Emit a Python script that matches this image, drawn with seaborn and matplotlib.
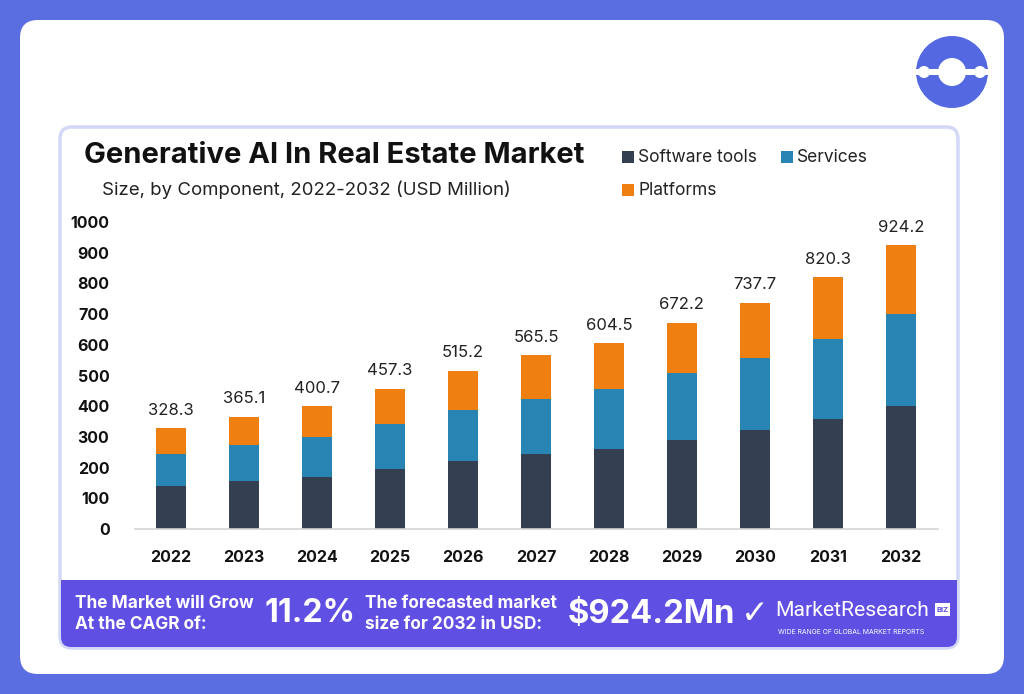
import numpy as np
import pandas as pd
import matplotlib.pyplot as plt
import seaborn as sns
from matplotlib.patches import FancyBboxPatch, Circle, Rectangle

# values (USD Million)
years = ['2022', '2023', '2024', '2025', '2026', '2027', '2028', '2029', '2030', '2031', '2032']
software_tools = [140, 156, 171, 195, 222, 245, 261, 291, 321, 357, 401]
services = [105, 116, 128, 148, 165, 180, 194, 217, 236, 262, 298]
platforms = [83.3, 93.1, 101.7, 114.3, 128.2, 140.5, 149.5, 164.2, 180.7, 201.3, 225.2]
totals = [328.3, 365.1, 400.7, 457.3, 515.2, 565.5, 604.5, 672.2, 737.7, 820.3, 924.2]

series_names = ['Software tools', 'Services', 'Platforms']
colors = {'Software tools': '#343f51', 'Services': '#2784b3', 'Platforms': '#f07f12'}

sns.set_theme(style='white')
plt.rcParams['font.family'] = ['Inter', 'DejaVu Sans']

W, H = 1024, 694
fig = plt.figure(figsize=(W / 100, H / 100), dpi=100)
fig.patch.set_facecolor('#5b6ee1')

# background layer in pixel coordinates
bg = fig.add_axes([0, 0, 1, 1], zorder=0)
bg.set_xlim(0, W)
bg.set_ylim(H, 0)
bg.axis('off')

bg.add_patch(FancyBboxPatch((20, 20), 984, 654, boxstyle='round,pad=0,rounding_size=18',
                            fc='white', ec='none'))
bg.add_patch(FancyBboxPatch((60, 127), 898, 521, boxstyle='round,pad=0,rounding_size=12',
                            fc='white', ec='#d3d8f6', lw=2.5))
bg.add_patch(FancyBboxPatch((61, 580), 896, 67, boxstyle='round,pad=0,rounding_size=10',
                            fc='#5f4fe3', ec='none'))
bg.add_patch(Rectangle((61, 580), 896, 20, fc='#5f4fe3', ec='none'))

# logo top right
bg.add_patch(Circle((952, 72), 36, fc='#5468e2', ec='none'))
bg.add_patch(Circle((952, 72), 14, fc='white', ec='none'))
bg.add_patch(Rectangle((914, 69), 76, 6, fc='white', ec='none'))
bg.add_patch(Circle((924, 72), 6, fc='white', ec='none'))
bg.add_patch(Circle((980, 72), 6, fc='white', ec='none'))

# titles
bg.text(84, 155, 'Generative AI In Real Estate Market', fontsize=21, fontweight='bold',
        color='#111111', va='center', ha='left')
bg.text(102, 190, 'Size, by Component, 2022-2032 (USD Million)', fontsize=13.4,
        color='#222222', va='center', ha='left')

# legend
legend_pos = [(622, 157), (781, 157), (622, 190)]
for name, (lx, ly) in zip(series_names, legend_pos):
    bg.add_patch(Rectangle((lx, ly - 6), 12, 12, fc=colors[name], ec='none'))
    bg.text(lx + 16, ly, name, fontsize=12.5, color='#222222', va='center', ha='left')

# banner texts
bg.text(75, 614, 'The Market will Grow\nAt the CAGR of:', fontsize=12.4, fontweight='bold',
        color='white', va='center', ha='left', linespacing=1.3)
bg.text(265, 614, '11.2%', fontsize=23, fontweight='bold', color='white', va='center', ha='left')
bg.text(365, 614, 'The forecasted market\nsize for 2032 in USD:', fontsize=12.4, fontweight='bold',
        color='white', va='center', ha='left', linespacing=1.3)
bg.text(568, 614, '$924.2Mn', fontsize=23.5, fontweight='bold', color='white', va='center', ha='left')
bg.text(755, 613, '\u2713', fontsize=24, fontweight='bold', color='white', va='center', ha='center',
        family=['DejaVu Sans'])
bg.text(775, 610, 'MarketResearch', fontsize=15.2, color='white', va='center', ha='left',
        family=['Roboto', 'DejaVu Sans'])
bg.add_patch(Rectangle((935, 603), 15, 13, fc='white', ec='none'))
bg.text(942.5, 610, 'BIZ', fontsize=5.5, fontweight='bold', color='#5f4fe3', va='center', ha='center')
bg.text(778, 632, 'WIDE RANGE OF GLOBAL MARKET REPORTS', fontsize=4.9, color='white',
        va='center', ha='left')

# chart axes
ax = fig.add_axes([134.5 / W, 1 - 529 / H, 803 / W, 307 / H], zorder=1)
ax.patch.set_alpha(0)

df = pd.DataFrame({'year': years, 'Software tools': software_tools,
                   'Services': services, 'Platforms': platforms})
cum = df[series_names].cumsum(axis=1)
for name in reversed(series_names):
    sns.barplot(x=df['year'], y=cum[name], color=colors[name], width=0.4,
                saturation=1, linewidth=0, edgecolor='none', ax=ax, zorder=2)

for i, t in enumerate(totals):
    ax.text(i, t + 34, f'{t:.1f}', ha='center', va='bottom', fontsize=12, color='#222222')

ax.set_xlim(-0.5, len(years) - 0.5)
ax.set_ylim(0, 1000)
ax.set_yticks(range(0, 1001, 100))
ax.set_xlabel('')
ax.set_ylabel('')
ax.tick_params(axis='y', length=0, pad=18, labelsize=11.5)
ax.tick_params(axis='x', length=0, pad=15, labelsize=11.5)
for lab in ax.get_yticklabels() + ax.get_xticklabels():
    lab.set_fontweight('bold')
    lab.set_color('#111111')
for s in ['top', 'right', 'left']:
    ax.spines[s].set_visible(False)
ax.spines['bottom'].set_color('#d4d4d4')
ax.spines['bottom'].set_linewidth(1.2)
ax.grid(False)

plt.savefig('out.png', dpi=100, facecolor=fig.get_facecolor())
